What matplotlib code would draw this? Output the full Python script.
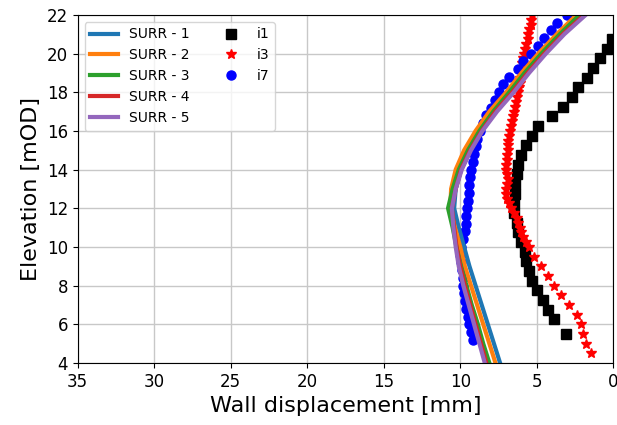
import numpy as np
import matplotlib
matplotlib.use("Agg")
import matplotlib.pyplot as plt
from matplotlib.lines import Line2D

# elevations (mOD) shared by the surrogate curves
surr_elev = [4, 5, 6, 7, 8, 9, 10, 11, 12, 13, 14, 15, 16, 17, 18, 19, 20, 21, 22]

# surrogate model wall displacement (mm)
surr_1 = [7.4, 7.8, 8.2, 8.6, 9.0, 9.4, 9.75, 10.1, 10.4, 10.3, 9.95, 9.35, 8.6, 7.7, 6.6, 5.6, 4.5, 3.3, 2.0]
surr_2 = [7.7, 8.1, 8.5, 8.9, 9.3, 9.7, 10.0, 10.35, 10.65, 10.6, 10.3, 9.75, 9.0, 8.1, 7.0, 6.0, 4.9, 3.7, 2.4]
surr_3 = [8.1, 8.5, 8.85, 9.25, 9.6, 9.95, 10.25, 10.5, 10.8, 10.5, 10.1, 9.5, 8.75, 7.85, 6.8, 5.8, 4.7, 3.5, 2.2]
surr_4 = [8.3, 8.65, 9.0, 9.35, 9.7, 10.0, 10.25, 10.4, 10.55, 10.3, 9.95, 9.35, 8.6, 7.7, 6.6, 5.6, 4.5, 3.3, 1.9]
surr_5 = [8.4, 8.75, 9.1, 9.45, 9.8, 10.1, 10.3, 10.45, 10.55, 10.3, 9.9, 9.3, 8.55, 7.6, 6.5, 5.5, 4.4, 3.2, 1.8]
surr_series = [surr_1, surr_2, surr_3, surr_4, surr_5]
surr_names = ["SURR - 1", "SURR - 2", "SURR - 3", "SURR - 4", "SURR - 5"]

# inclinometer i1
i1_elev = [20.75, 20.25, 19.75, 19.25, 18.75, 18.25, 17.75, 17.25, 16.75, 16.25,
           15.75, 15.25, 14.75, 14.25, 13.75, 13.25, 12.75, 12.25, 11.75, 11.25,
           10.75, 10.25, 9.75, 9.25, 8.75, 8.25, 7.75, 7.25, 6.75, 6.25, 5.5]
i1_disp = [0.1, 0.4, 0.9, 1.3, 1.7, 2.3, 2.7, 3.3, 4.0, 4.9,
           5.3, 5.7, 6.0, 6.2, 6.3, 6.4, 6.4, 6.5, 6.5, 6.3,
           6.2, 6.0, 5.8, 5.7, 5.5, 5.3, 5.0, 4.6, 4.3, 3.9, 3.1]

# inclinometer i3
i3_elev = [22.0, 21.75, 21.5, 21.25, 21.0, 20.75, 20.5, 20.25, 20.0, 19.75,
           19.5, 19.25, 19.0, 18.75, 18.5, 18.25, 18.0, 17.75, 17.5, 17.25,
           17.0, 16.75, 16.5, 16.25, 16.0, 15.75, 15.5, 15.25, 15.0, 14.75,
           14.5, 14.25, 14.0, 13.75, 13.5, 13.25, 13.0, 12.75, 12.5, 12.25,
           12.0, 11.75, 11.5, 11.25, 11.0, 10.75, 10.5, 10.25, 10.0, 9.5,
           9.0, 8.5, 8.0, 7.5, 7.0, 6.5, 6.0, 5.5, 5.0, 4.5]
i3_disp = [5.3, 5.35, 5.4, 5.5, 5.55, 5.6, 5.7, 5.8, 5.85, 5.9,
           5.95, 6.0, 6.05, 6.1, 6.1, 6.15, 6.2, 6.3, 6.35, 6.4,
           6.5, 6.55, 6.6, 6.7, 6.75, 6.8, 6.85, 6.9, 6.9, 6.95,
           6.95, 7.0, 7.0, 6.95, 6.9, 6.95, 7.0, 7.0, 6.95, 6.8,
           6.7, 6.5, 6.3, 6.2, 6.1, 6.0, 5.9, 5.7, 5.5, 5.2,
           4.7, 4.3, 3.9, 3.4, 2.9, 2.4, 2.1, 1.95, 1.8, 1.45]

# inclinometer i7
i7_elev = [22.0, 21.6, 21.2, 20.8, 20.4, 20.0, 19.6, 19.2, 18.8, 18.4,
           18.0, 17.6, 17.2, 16.8, 16.4, 16.0, 15.6, 15.2, 14.8, 14.4,
           14.0, 13.6, 13.2, 12.8, 12.4, 12.0, 11.6, 11.2, 10.8, 10.4,
           10.0, 9.6, 9.2, 8.8, 8.4, 8.0, 7.6, 7.2, 6.8, 6.4,
           6.0, 5.6, 5.2]
i7_disp = [3.0, 3.7, 4.1, 4.5, 4.9, 5.4, 5.9, 6.2, 6.8, 7.2,
           7.5, 7.7, 8.0, 8.3, 8.5, 8.7, 8.9, 9.0, 9.1, 9.2,
           9.3, 9.35, 9.4, 9.45, 9.5, 9.55, 9.6, 9.65, 9.7, 9.8,
           9.95, 10.0, 9.95, 9.9, 9.85, 9.8, 9.75, 9.7, 9.6, 9.5,
           9.45, 9.3, 9.2]

fig = plt.figure(figsize=(6.17, 4.25), dpi=100)
ax = fig.add_axes([0.126, 0.146, 0.868, 0.819])

# measured data first, model curves drawn over them
p1, = ax.plot(i1_disp, i1_elev, 's', color='black', ms=7, ls='none', label='i1')
p3, = ax.plot(i3_disp, i3_elev, '*', color='red', ms=7, ls='none', label='i3')
p7, = ax.plot(i7_disp, i7_elev, 'o', color='blue', ms=6.5, ls='none', label='i7')

lines = []
for vals, name in zip(surr_series, surr_names):
    ln, = ax.plot(vals, surr_elev, lw=3, label=name)
    lines.append(ln)

ax.set_xlim(35, 0)
ax.set_ylim(4, 22)
ax.set_yticks(np.arange(4, 23, 2))
ax.grid(True, color='#c8c8c8', lw=1)
ax.set_axisbelow(True)
ax.tick_params(labelsize=12)
ax.set_xlabel('Wall displacement [mm]', fontsize=16)
ax.set_ylabel('Elevation [mOD]', fontsize=16)

# 5 curves in first column, 3 markers in second
blank = Line2D([], [], ls='none', marker='none')
handles = lines + [p1, p3, p7, blank, blank]
labels = surr_names + ['i1', 'i3', 'i7', '', '']
ax.legend(handles, labels, loc='upper left', ncol=2, fontsize=10)

fig.savefig('out.png', dpi=100)
